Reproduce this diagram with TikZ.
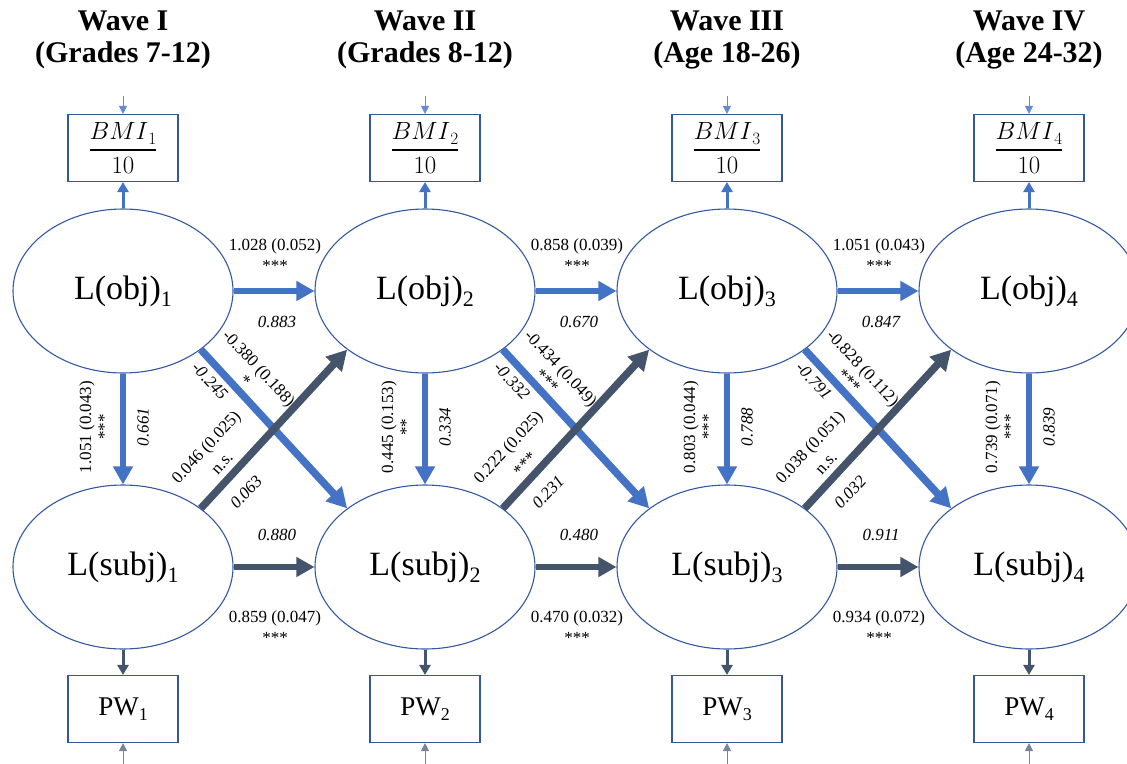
\documentclass[tikz,border=0pt]{standalone}
\usepackage{amsmath}
\usepackage{fontspec}
\setmainfont{Liberation Serif}
\usetikzlibrary{arrows.meta,shapes.geometric}
\definecolor{cblue}{RGB}{68,114,196}
\definecolor{cdark}{RGB}{68,84,106}
\definecolor{cline}{RGB}{52,88,160}
\definecolor{clight}{RGB}{100,140,210}
\definecolor{cgray}{RGB}{120,132,155}
\newcommand\lsub[1]{\raisebox{-7pt}{\fontsize{22}{22}\selectfont #1}}
\newcommand\psub[1]{\raisebox{-5pt}{\fontsize{18}{18}\selectfont #1}}
\newcommand\msub[1]{\mbox{\raisebox{-5pt}{\fontsize{18}{18}\selectfont$#1$}}}
\begin{document}
\begin{tikzpicture}[x=1pt,y=-1pt,
 lat/.style={ellipse, draw=cline, line width=1.1pt, minimum width=220pt, minimum height=164pt, inner sep=0pt, font=\fontsize{34}{36}\selectfont},
 obsbox/.style={draw=cline, line width=1.1pt, minimum width=110pt, minimum height=67pt, inner sep=0pt},
 hdr/.style={font=\fontsize{30}{32}\selectfont\bfseries, anchor=base, inner sep=0pt},
 lab/.style={font=\fontsize{17}{19}\selectfont, inner sep=0pt},
 ilab/.style={font=\fontsize{17}{19}\selectfont\itshape, inner sep=0pt},
 bigb/.style={draw=cblue, line width=6.5pt, -{Triangle[length=18pt,width=19pt]}},
 bigd/.style={draw=cdark, line width=6.5pt, -{Triangle[length=18pt,width=19pt]}},
 crossb/.style={draw=cblue, line width=7.5pt, -{Triangle[length=20pt,width=21pt]}},
 crossd/.style={draw=cdark, line width=7.5pt, -{Triangle[length=20pt,width=21pt]}},
 medb/.style={draw=cblue, line width=3pt, -{Triangle[length=10pt,width=11pt]}},
 medd/.style={draw=cdark, line width=3pt, -{Triangle[length=10pt,width=11pt]}},
 thinb/.style={draw=clight, line width=1pt, -{Triangle[length=8pt,width=8pt]}},
 thind/.style={draw=cgray, line width=1pt, -{Triangle[length=8pt,width=8pt]}},
]
\useasboundingbox (0,0) rectangle (1127,763);
\clip (0,0) rectangle (1127,763);

% headers
\node[hdr] (h1a) at (123,30) {Wave I};
\node[hdr] (h1b) at (123,62) {(Grades 7-12)};
\node[hdr] (h2a) at (425,30) {Wave II};
\node[hdr] (h2b) at (425,62) {(Grades 8-12)};
\node[hdr] (h3a) at (727,30) {Wave III};
\node[hdr] (h3b) at (727,62) {(Age 18-26)};
\node[hdr] (h4a) at (1029,30) {Wave IV};
\node[hdr] (h4b) at (1029,62) {(Age 24-32)};

% nodes
\foreach \i/\x in {1/123,2/425,3/727,4/1029}{
  \node[lat] (obj\i) at (\x,291) {L(obj)\lsub{\i}};
  \node[lat] (subj\i) at (\x,567) {L(subj)\lsub{\i}};
  \node[obsbox, font=\fontsize{26}{28}\selectfont] (bmi\i) at (\x,148) {$\genfrac{}{}{1.6pt}{0}{BMI\msub{\i}}{10}$};
  \node[obsbox, font=\fontsize{27}{29}\selectfont] (pw\i) at (\x,709) {PW\psub{\i}};
  \coordinate (tin\i) at (\x,96);
  \coordinate (bin\i) at (\x,766);
}

% connectors
\foreach \i in {1,2,3,4}{
  \draw[thinb] (tin\i) -- (bmi\i.north);
  \draw[medb] (obj\i.north) -- (bmi\i.south);
  \draw[medd] (subj\i.south) -- (pw\i.north);
  \draw[thind] (bin\i) -- (pw\i.south);
  \draw[bigb] (obj\i.south) -- (subj\i.north);
}
\foreach \i/\j in {1/2,2/3,3/4}{
  \draw[bigb] (obj\i.east) -- (obj\j.west);
  \draw[bigd] (subj\i.east) -- (subj\j.west);
  \draw[crossb] (obj\i.-37) -- (subj\j.143);
  \draw[crossd] (subj\i.37) -- (obj\j.-143);
}

% horizontal labels
\node[lab] (ho1) at (275,246) {1.028 (0.052)};
\node[lab] (ho1s) at (275,266) {***};
\node[ilab] (ho1i) at (277,322) {0.883};
\node[lab] (ho2) at (577,246) {0.858 (0.039)};
\node[lab] (ho2s) at (577,266) {***};
\node[ilab] (ho2i) at (579,322) {0.670};
\node[lab] (ho3) at (879,246) {1.051 (0.043)};
\node[lab] (ho3s) at (879,266) {***};
\node[ilab] (ho3i) at (881,322) {0.847};

\node[ilab] (hs1i) at (277,535) {0.880};
\node[lab] (hs1) at (275,618) {0.859 (0.047)};
\node[lab] (hs1s) at (275,638) {***};
\node[ilab] (hs2i) at (579,535) {0.480};
\node[lab] (hs2) at (577,618) {0.470 (0.032)};
\node[lab] (hs2s) at (577,638) {***};
\node[ilab] (hs3i) at (881,535) {0.911};
\node[lab] (hs3) at (879,618) {0.934 (0.072)};
\node[lab] (hs3s) at (879,638) {***};

% vertical labels
\node[lab, rotate=90] (v1) at (87,427) {1.051 (0.043)};
\node[lab, rotate=90] (v1s) at (104,427) {***};
\node[ilab, rotate=90] (v1i) at (143,427) {0.661};
\node[lab, rotate=90] (v2) at (389,427) {0.445 (0.153)};
\node[lab, rotate=90] (v2s) at (406,427) {**};
\node[ilab, rotate=90] (v2i) at (445,427) {0.334};
\node[lab, rotate=90] (v3) at (691,427) {0.803 (0.044)};
\node[lab, rotate=90] (v3s) at (708,427) {***};
\node[ilab, rotate=90] (v3i) at (747,427) {0.788};
\node[lab, rotate=90] (v4) at (993,427) {0.739 (0.071)};
\node[lab, rotate=90] (v4s) at (1010,427) {***};
\node[ilab, rotate=90] (v4i) at (1049,427) {0.839};

% cross labels wave 1
\node[lab, rotate=-47] (cb1) at (258,369) {-0.380 (0.188)};
\node[lab, rotate=-47] (cb1s) at (245,381) {*};
\node[ilab, rotate=-47] (cb1i) at (210,381) {-0.245};
\node[lab, rotate=47] (cd1) at (207,448) {0.046 (0.025)};
\node[lab, rotate=47] (cd1s) at (223,464) {n.s.};
\node[ilab, rotate=47] (cd1i) at (246,492) {0.063};
% wave 2
\node[lab, rotate=-47] (cb2) at (560,369) {-0.434 (0.049)};
\node[lab, rotate=-47] (cb2s) at (547,381) {***};
\node[ilab, rotate=-47] (cb2i) at (512,381) {-0.332};
\node[lab, rotate=47] (cd2) at (509,448) {0.222 (0.025)};
\node[lab, rotate=47] (cd2s) at (525,464) {***};
\node[ilab, rotate=47] (cd2i) at (548,492) {0.231};
% wave 3
\node[lab, rotate=-47] (cb3) at (862,369) {-0.828 (0.112)};
\node[lab, rotate=-47] (cb3s) at (849,381) {***};
\node[ilab, rotate=-47] (cb3i) at (814,381) {-0.791};
\node[lab, rotate=47] (cd3) at (811,448) {0.038 (0.051)};
\node[lab, rotate=47] (cd3s) at (827,464) {n.s.};
\node[ilab, rotate=47] (cd3i) at (850,492) {0.032};
\end{tikzpicture}
\end{document}
